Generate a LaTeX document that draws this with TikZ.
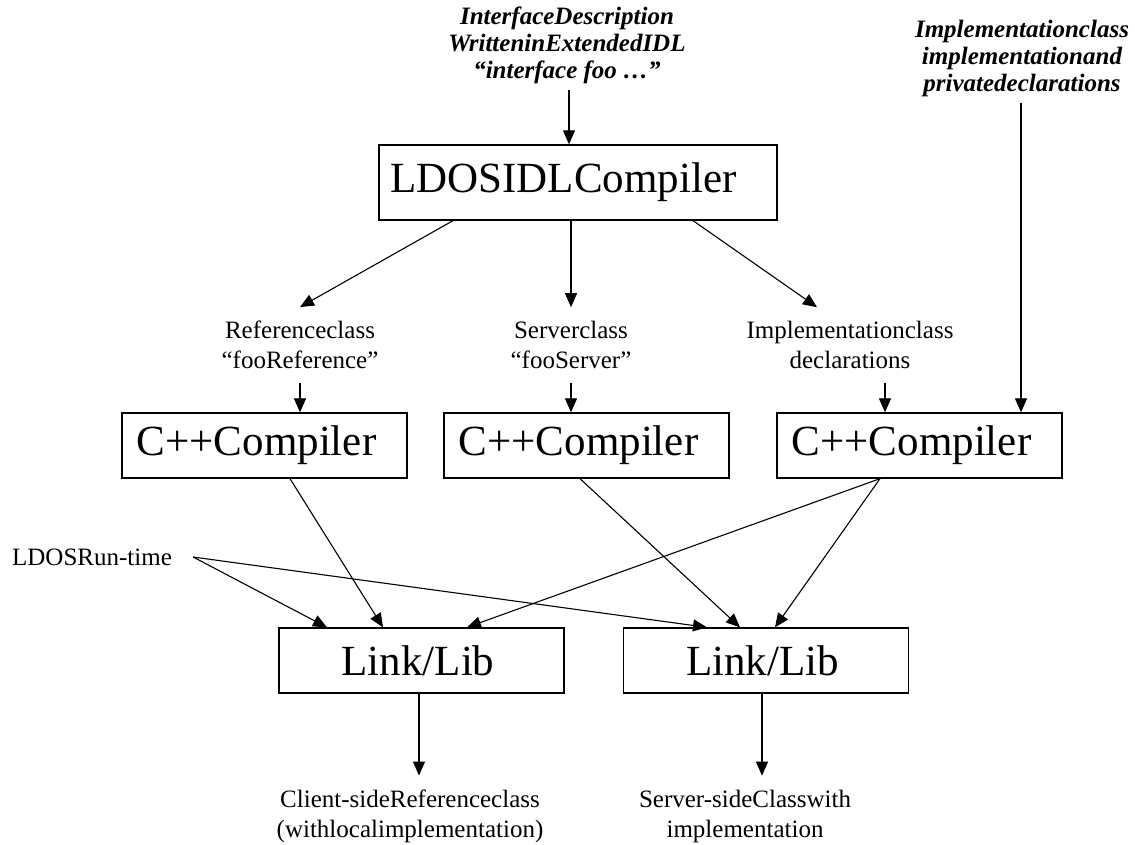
\documentclass[tikz,border=0pt]{standalone}
\usepackage{fontspec}
\setmainfont{Liberation Serif}
\usetikzlibrary{arrows.meta,calc}
\tikzset{
  box/.style={draw, line width=1.3pt, minimum height=65pt, minimum width=285pt,
    inner sep=0pt, font=\fontsize{43}{48}\selectfont},
  note/.style={align=center, inner sep=0pt, outer ysep=14pt,
    font=\fontsize{25}{30}\selectfont},
  src/.style={align=center, inner sep=0pt, outer ysep=7pt,
    font=\fontsize{25}{27}\selectfont\bfseries\itshape},
  arr/.style={line width=1.1pt, -{Triangle[length=14pt,width=12pt]}},
}
\begin{document}
\begin{tikzpicture}[x=1pt,y=-1pt]
\fill[white] (0,0) rectangle (1135,845);
\useasboundingbox (0,0) rectangle (1135,845);

% inputs
\node[src] (desc) at (567,45) {InterfaceDescription\\WritteninExtendedIDL\\“interface foo …”};
\node[src] (impl) at (1022,58) {Implementationclass\\implementationand\\privatedeclarations};

% IDL compiler
\node[box, minimum width=398pt, minimum height=75pt] (idl) at (578,182.5) {LDOSIDLCompiler\hspace*{29pt}};

% generated sources
\node[note] (ref) at (300,345) {Referenceclass\\“fooReference”};
\node[note] (srv) at (571,345) {Serverclass\\“fooServer”};
\node[note] (decl) at (850,345) {Implementationclass\\declarations};

% C++ compilers
\node[box] (cpp1) at (264.5,445.5) {C++Compiler\hspace*{16pt}};
\node[box] (cpp2) at (586.5,445.5) {C++Compiler\hspace*{16pt}};
\node[box] (cpp3) at (919.5,445.5) {C++Compiler\hspace*{16pt}};

% run-time library
\node[note, outer ysep=0pt] (rt) at (92,557) {LDOSRun-time};

% linkers
\node[box] (link1) at (421.5,660.5) {Link/Lib\hspace*{7pt}};
\node[box] (link2) at (766,660.5) {Link/Lib\hspace*{7pt}};

% results
\node[note] (out1) at (410,816) {Client-sideReferenceclass\\(withlocalimplementation)};
\node[note] (out2) at (745,816) {Server-sideClasswith\\implementation};

% connectors
\draw[arr] ([xshift=-9pt]idl.north |- desc.south) -- ([xshift=-9pt]idl.north);
\draw[arr] ([xshift=101.5pt]cpp3.north |- impl.south) -- ([xshift=101.5pt]cpp3.north);

\draw[arr] ([xshift=-125pt]idl.south) -- (ref.north);
\draw[arr] (idl.south -| srv.north) -- (srv.north);
\draw[arr] ([xshift=115pt]idl.south) -- ([xshift=-33pt]decl.north);

\draw[arr] (ref.south) -- (ref.south |- cpp1.north);
\draw[arr] (srv.south) -- (srv.south |- cpp2.north);
\draw[arr] ([xshift=35pt]decl.south) -- ([xshift=35pt]decl.south |- cpp3.north);

\draw[arr] ([xshift=25.5pt]cpp1.south) -- ([xshift=-38.5pt]link1.north);
\draw[arr] ([xshift=-6.5pt]cpp2.south) -- ([xshift=-26pt]link2.north);
\draw[arr] ([xshift=-39.5pt]cpp3.south) -- ([xshift=45.5pt]link1.north);
\draw[arr] ([xshift=-39.5pt]cpp3.south) -- ([xshift=9pt]link2.north);
\draw[arr] ([xshift=21pt]rt.east) -- ([xshift=-94.5pt]link1.north);
\draw[arr] ([xshift=21pt]rt.east) -- ([xshift=-59pt]link2.north);

\draw[arr] ([xshift=-2.5pt]link1.south) -- ([xshift=-2.5pt]link1.south |- out1.north);
\draw[arr] ([xshift=-4pt]link2.south) -- ([xshift=-4pt]link2.south |- out2.north);
\end{tikzpicture}
\end{document}
